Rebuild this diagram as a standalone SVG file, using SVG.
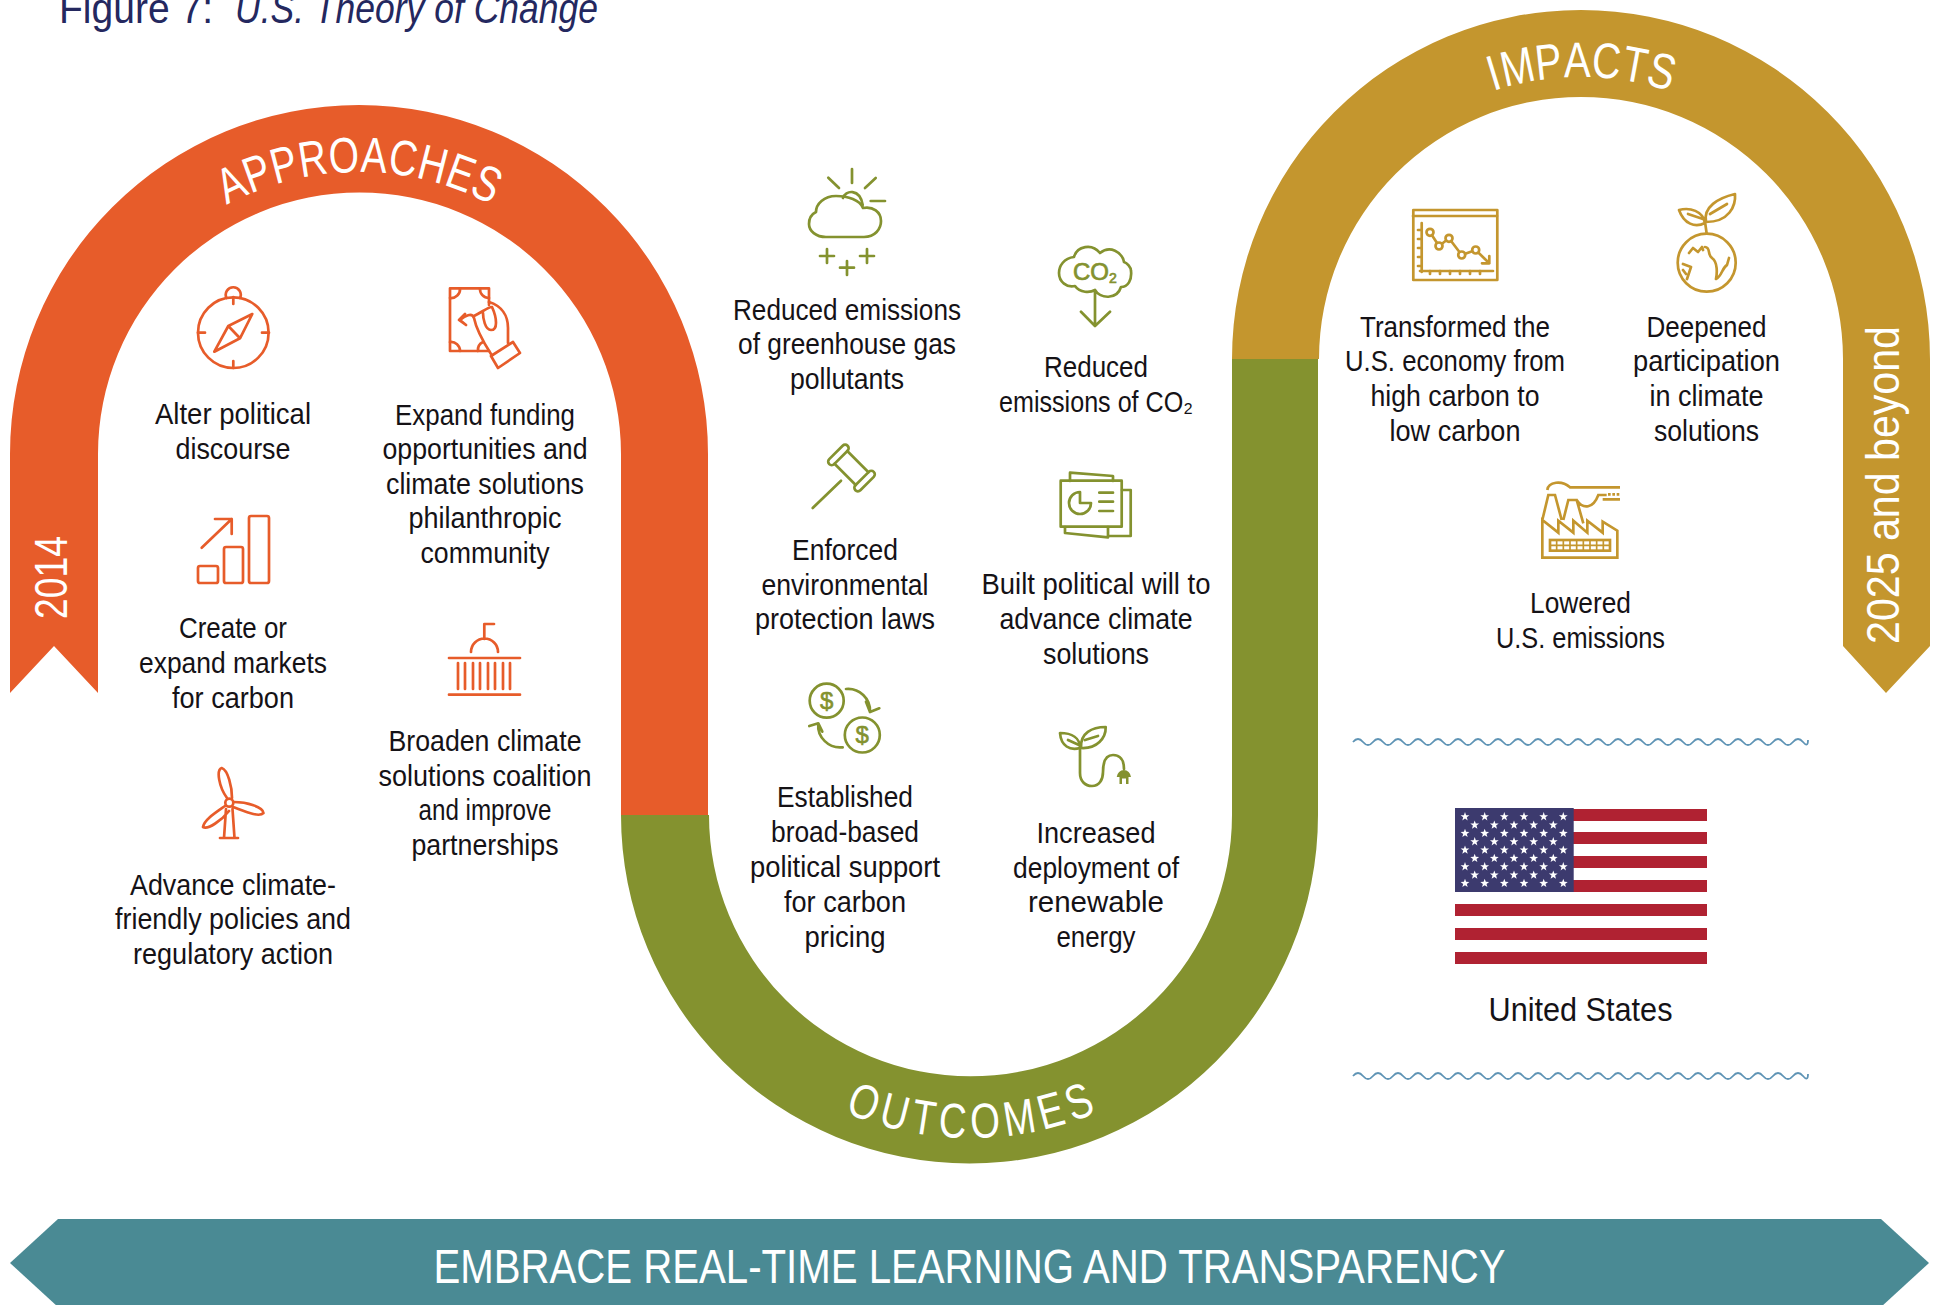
<svg xmlns="http://www.w3.org/2000/svg" width="1939" height="1305" viewBox="0 0 1939 1305">
<style>
text{font-family:"Liberation Sans",Arial,sans-serif}
.t{font-size:29px;fill:#151216;text-anchor:middle;transform:translateY(.7px)}
.h{font-size:50px;fill:#fff;text-anchor:middle}
.r{font-size:46px;fill:#fff}
.i{fill:none;stroke-width:2.7;stroke-linecap:round;stroke-linejoin:round}
.o{stroke:#e75c2a}.g{stroke:#84922f}.y{stroke:#c4962e}
.w{fill:none;stroke:#5f94b5;stroke-width:1.8}
</style>
<defs>
<path id="s" d="M0,-4.6L1.1,-1.5 4.4,-1.4 1.8,.6 2.7,3.7 0,1.9 -2.7,3.7 -1.8,.6 -4.4,-1.4 -1.1,-1.5Z" fill="#fff"/>
<path id="wave" d="M1353,0q5,-6 10,0t10,0t10,0t10,0t10,0t10,0t10,0t10,0t10,0t10,0t10,0t10,0t10,0t10,0t10,0t10,0t10,0t10,0t10,0t10,0t10,0t10,0t10,0t10,0t10,0t10,0t10,0t10,0t10,0t10,0t10,0t10,0t10,0t10,0t10,0t10,0t10,0t10,0t10,0t10,0t10,0t10,0t10,0t10,0t10,0t5,-2"/>
</defs>
<g id="title" font-size="42" fill="#24285f"><text x="59" y="23" textLength="154" lengthAdjust="spacingAndGlyphs">Figure 7:</text><text x="235" y="23" font-style="italic" textLength="363" lengthAdjust="spacingAndGlyphs">U.S. Theory of Change</text></g>

<g id="connectors">
<path id="band-approaches" fill="#e75c2a" d="M10,693V454A349,349 0 0 1 708,454V815H621V454A261.5,261.5 0 0 0 98,454V693L54,646Z"/>
<path id="band-outcomes" fill="#84922f" d="M621,815H709A261.5,261.5 0 0 0 1232,815V359H1318V815A348.5,348.5 0 0 1 621,815Z"/>
<path id="band-impacts" fill="#c4962e" d="M1232,359A349,349 0 0 1 1930,359V646L1886,693 1843,646V359A262,262 0 0 0 1319,359Z"/>
</g>
<g id="band-labels">
<g id="label-approaches">
<text class="h" transform="rotate(-25.37 359 454) translate(359,172) scale(.78,1)">A</text>
<text class="h" transform="rotate(-19.96 359 454) translate(359,172) scale(.78,1)">P</text>
<text class="h" transform="rotate(-14.55 359 454) translate(359,172) scale(.78,1)">P</text>
<text class="h" transform="rotate(-8.94 359 454) translate(359,172) scale(.78,1)">R</text>
<text class="h" transform="rotate(-2.91 359 454) translate(359,172) scale(.78,1)">O</text>
<text class="h" transform="rotate(2.91 359 454) translate(359,172) scale(.78,1)">A</text>
<text class="h" transform="rotate(8.53 359 454) translate(359,172) scale(.78,1)">C</text>
<text class="h" transform="rotate(14.35 359 454) translate(359,172) scale(.78,1)">H</text>
<text class="h" transform="rotate(19.96 359 454) translate(359,172) scale(.78,1)">E</text>
<text class="h" transform="rotate(25.37 359 454) translate(359,172) scale(.78,1)">S</text>
</g>
<g id="label-impacts">
<text class="h" transform="rotate(-17.03 1581 359) translate(1581,77) scale(.8,1)">I</text>
<text class="h" transform="rotate(-12.3 1581 359) translate(1581,77) scale(.8,1)">M</text>
<text class="h" transform="rotate(-6.25 1581 359) translate(1581,77) scale(.8,1)">P</text>
<text class="h" transform="rotate(-.76 1581 359) translate(1581,77) scale(.8,1)">A</text>
<text class="h" transform="rotate(4.92 1581 359) translate(1581,77) scale(.8,1)">C</text>
<text class="h" transform="rotate(10.41 1581 359) translate(1581,77) scale(.8,1)">T</text>
<text class="h" transform="rotate(15.7 1581 359) translate(1581,77) scale(.8,1)">S</text>
</g>
<g id="label-outcomes">
<text class="h" style="font-size:49px" transform="rotate(20.3 970.5 815) translate(970.5,1138) scale(.78,1)">O</text>
<text class="h" style="font-size:49px" transform="rotate(14.26 970.5 815) translate(970.5,1138) scale(.78,1)">U</text>
<text class="h" style="font-size:49px" transform="rotate(8.78 970.5 815) translate(970.5,1138) scale(.78,1)">T</text>
<text class="h" style="font-size:49px" transform="rotate(3.31 970.5 815) translate(970.5,1138) scale(.78,1)">C</text>
<text class="h" style="font-size:49px" transform="rotate(-2.74 970.5 815) translate(970.5,1138) scale(.78,1)">O</text>
<text class="h" style="font-size:49px" transform="rotate(-9.15 970.5 815) translate(970.5,1138) scale(.78,1)">M</text>
<text class="h" style="font-size:49px" transform="rotate(-15.19 970.5 815) translate(970.5,1138) scale(.78,1)">E</text>
<text class="h" style="font-size:49px" transform="rotate(-20.68 970.5 815) translate(970.5,1138) scale(.78,1)">S</text>
</g>
<text class="r" transform="translate(67,619) rotate(-90)" textLength="83" lengthAdjust="spacingAndGlyphs">2014</text>
<text class="r" transform="translate(1899,644) rotate(-90)" textLength="318" lengthAdjust="spacingAndGlyphs">2025 and beyond</text>
</g>

<g id="alter"><g class="i o"><circle cx="233.3" cy="332.7" r="35.3"/><path d="M226.5,298A7.5,7.5 0 1 1 240,298M233.3,297V304M233.3,361V368M198,332.7H205M262,332.7H269"/><path d="M252.3,314L228.3,326 214.3,351.7 240,338.3ZM228.3,326L240,338.3"/></g>
<text class="t" x="233" y="423" textLength="156" lengthAdjust="spacingAndGlyphs">Alter political</text><text class="t" x="233" y="458" textLength="115" lengthAdjust="spacingAndGlyphs">discourse</text></g>

<g id="expand"><g class="i o"><path d="M489,305V288.3H450V351H489"/><path d="M450,298A9,9 0 0 0 460,288.3M480,288.3A9,9 0 0 0 489,298M450,342A9,9 0 0 1 460,351M478,351A9,9 0 0 1 483,342"/><path d="M489,302C502,306 508,316 508,328V343M513,342L520,353 498,368 491,356ZM491,354C482,340 476,328 474,318C472,312 465,316 460,320L466,325 459,320 465,314M474,316C482,312 490,306 492,307C497,318 498,330 491,330C485,330 483,318 483,313"/></g>
<text class="t" x="485" y="424" textLength="180" lengthAdjust="spacingAndGlyphs">Expand funding</text><text class="t" x="485" y="458" textLength="205" lengthAdjust="spacingAndGlyphs">opportunities and</text><text class="t" x="485" y="493" textLength="198" lengthAdjust="spacingAndGlyphs">climate solutions</text><text class="t" x="485" y="527" textLength="153" lengthAdjust="spacingAndGlyphs">philanthropic</text><text class="t" x="485" y="562" textLength="129" lengthAdjust="spacingAndGlyphs">community</text></g>

<g id="create"><g class="i o"><rect x="198" y="566" width="20" height="17" rx="2"/><rect x="224" y="547" width="19" height="36" rx="2"/><rect x="249" y="516" width="20" height="67" rx="2"/><path d="M201.7,547.7L231.7,519M215,519H231.7V534"/></g>
<text class="t" x="233" y="637" textLength="108" lengthAdjust="spacingAndGlyphs">Create or</text><text class="t" x="233" y="672" textLength="188" lengthAdjust="spacingAndGlyphs">expand markets</text><text class="t" x="233" y="707" textLength="122" lengthAdjust="spacingAndGlyphs">for carbon</text></g>

<g id="broaden"><g class="i o"><path d="M494,624H484.3V639M471,652A13.5,13.5 0 0 1 498,652M449,658H520M449,694.7H520M458,663V689M465,663V689M473,663V689M480,663V689M488,663V689M495,663V689M503,663V689M510,663V689"/></g>
<text class="t" x="485" y="750" textLength="193" lengthAdjust="spacingAndGlyphs">Broaden climate</text><text class="t" x="485" y="785" textLength="213" lengthAdjust="spacingAndGlyphs">solutions coalition</text><text class="t" x="485" y="819" textLength="133" lengthAdjust="spacingAndGlyphs">and improve</text><text class="t" x="485" y="854" textLength="147" lengthAdjust="spacingAndGlyphs">partnerships</text></g>

<g id="advance"><g class="i o"><circle cx="229.3" cy="802.7" r="4"/><path d="M227,798C219,787 216,770 221.7,768C228,770 232,787 232,798M234,802C247,802 263,807 263.5,813C259,818 244,811 233,807M225,806C215,813 204,820 203,827C208,830 222,820 229,811M226,809L224,838M232.5,809L234.5,838M220,838H238"/></g>
<text class="t" x="233" y="894" textLength="206" lengthAdjust="spacingAndGlyphs">Advance climate-</text><text class="t" x="233" y="928" textLength="236" lengthAdjust="spacingAndGlyphs">friendly policies and</text><text class="t" x="233" y="963" textLength="200" lengthAdjust="spacingAndGlyphs">regulatory action</text></g>

<g id="ghg"><g class="i g"><path d="M852,169V183M828.3,177.7L839,188M875.7,178L865,188M870.7,201H885M843,198C845,190 860,188 862.7,205"/><path d="M826,237H864C875,237 881,229 881,221C881,212 873,206 863,208C860,200 848,196 836,196C824,196 816,204 816,212C810,215 809,220 809,224C809,231 816,237 826,237Z"/><path d="M820,256H834M827,249V263M840,267.7H854M847,261V275M860,256H874M867,249V263"/></g>
<text class="t" x="847" y="319" textLength="228" lengthAdjust="spacingAndGlyphs">Reduced emissions</text><text class="t" x="847" y="353" textLength="218" lengthAdjust="spacingAndGlyphs">of greenhouse gas</text><text class="t" x="847" y="388" textLength="114" lengthAdjust="spacingAndGlyphs">pollutants</text></g>

<g id="co2"><g class="i g"><path d="M1095,290C1100,299 1117,300 1121,287C1128,287 1132,280 1131,271C1131,267 1127,263 1124,262C1122,252 1110,245 1100,253C1092,243 1077,246 1074,257C1064,258 1059,266 1059,273C1059,282 1067,288 1075,286C1080,293 1090,293 1095,290ZM1095,290V325M1081,311.7L1095,326 1110,311.7"/></g>
<text x="1073" y="280" font-size="24" stroke="#84922f" stroke-width=".7" fill="#84922f">CO<tspan font-size="14" dy="3">2</tspan></text>
<text class="t" x="1096" y="376" textLength="104" lengthAdjust="spacingAndGlyphs">Reduced</text><text class="t" x="1096" y="411" textLength="194" lengthAdjust="spacingAndGlyphs">emissions of CO₂</text></g>

<g id="laws"><g class="i g"><g transform="translate(851.5,468) rotate(45)"><rect x="-22" y="-13" width="7" height="26" rx="3.5"/><rect x="15" y="-13" width="7" height="26" rx="3.5"/><path d="M-15,-9H15M-15,9H15"/></g><path d="M841,480.7L812.7,508"/></g>
<text class="t" x="845" y="559" textLength="106" lengthAdjust="spacingAndGlyphs">Enforced</text><text class="t" x="845" y="594" textLength="167" lengthAdjust="spacingAndGlyphs">environmental</text><text class="t" x="845" y="628" textLength="180" lengthAdjust="spacingAndGlyphs">protection laws</text></g>

<g id="will"><g class="i g"><rect x="1060.7" y="480.7" width="61" height="46"/><path d="M1070,481V472.7L1113,476V481M1122,490H1130.7V536H1108M1065,527V533L1108,537.3V527M1099.3,492.7H1113M1099.3,501.7H1113M1099.3,511H1113M1080,492A11,11 0 1 0 1091,503H1080Z"/></g>
<text class="t" x="1096" y="593" textLength="229" lengthAdjust="spacingAndGlyphs">Built political will to</text><text class="t" x="1096" y="628" textLength="193" lengthAdjust="spacingAndGlyphs">advance climate</text><text class="t" x="1096" y="663" textLength="106" lengthAdjust="spacingAndGlyphs">solutions</text></g>

<g id="pricing"><g class="i g"><circle cx="826.7" cy="700.7" r="17"/><circle cx="862.3" cy="735" r="17.5"/><path d="M846,689A22,22 0 0 1 870,712M866,701.7L870,712 879.3,708.3M842.7,747.3A22,22 0 0 1 818.3,723.3M809.3,726L818.3,723.3 822.3,731.7"/></g>
<text x="826.7" y="709" font-size="24" fill="#84922f" stroke="#84922f" stroke-width=".6" text-anchor="middle">$</text><text x="862.3" y="743" font-size="24" fill="#84922f" stroke="#84922f" stroke-width=".6" text-anchor="middle">$</text>
<text class="t" x="845" y="806" textLength="136" lengthAdjust="spacingAndGlyphs">Established</text><text class="t" x="845" y="841" textLength="148" lengthAdjust="spacingAndGlyphs">broad-based</text><text class="t" x="845" y="876" textLength="190" lengthAdjust="spacingAndGlyphs">political support</text><text class="t" x="845" y="911" textLength="122" lengthAdjust="spacingAndGlyphs">for carbon</text><text class="t" x="845" y="946" textLength="81" lengthAdjust="spacingAndGlyphs">pricing</text></g>

<g id="renewable"><g class="i g"><path d="M1080,748V773C1080,781 1085,786 1092,786C1099,786 1103,780 1103,772C1103,762 1106,755 1113,755C1120,755 1124,760 1124,769"/><path d="M1060,733C1072,733 1080,738 1080,748C1070,751 1061,746 1060,733ZM1105.7,727C1106,738 1097,749 1081,748C1080,733 1092,727 1105.7,727ZM1068,740L1079,745M1085,740L1098,736"/></g>
<path d="M1116.7,777A7.2,8 0 0 1 1131,777H1128.5V784H1126V778.5H1122V784H1119.5V777Z" fill="#84922f"/>
<text class="t" x="1096" y="842" textLength="119" lengthAdjust="spacingAndGlyphs">Increased</text><text class="t" x="1096" y="877" textLength="166" lengthAdjust="spacingAndGlyphs">deployment of</text><text class="t" x="1096" y="911" textLength="136" lengthAdjust="spacingAndGlyphs">renewable</text><text class="t" x="1096" y="946" textLength="79" lengthAdjust="spacingAndGlyphs">energy</text></g>

<g id="economy"><g class="i y" stroke-linecap="butt"><rect x="1413.3" y="210" width="84" height="70"/><path d="M1413,216H1497M1421.7,223V272M1420,271H1493M1430,232.3L1439,246 1449,238.3 1461.7,255 1475.7,250 1489.3,263.3M1489.3,256V263.3H1482"/><path d="M1418,230H1421M1418,239H1421M1418,248H1421M1418,257H1421M1418,266H1421M1430,274V271M1440,274V271M1450,274V271M1460,274V271M1470,274V271M1480,274V271"/></g><g fill="#fff" stroke="#c4962e" stroke-width="2.7"><circle cx="1430" cy="232.3" r="3.5"/><circle cx="1439" cy="246" r="3.5"/><circle cx="1449" cy="238.3" r="3.5"/><circle cx="1461.7" cy="255" r="3.5"/><circle cx="1475.7" cy="250" r="3.5"/></g>
<text class="t" x="1455" y="336" textLength="190" lengthAdjust="spacingAndGlyphs">Transformed the</text><text class="t" x="1455" y="370" textLength="220" lengthAdjust="spacingAndGlyphs">U.S. economy from</text><text class="t" x="1455" y="405" textLength="169" lengthAdjust="spacingAndGlyphs">high carbon to</text><text class="t" x="1455" y="440" textLength="131" lengthAdjust="spacingAndGlyphs">low carbon</text></g>

<g id="participation"><g class="i y"><circle cx="1706.7" cy="262.7" r="29"/><path d="M1706.7,233.7L1705,221.7M1679,210C1690,207 1703,211 1705,223C1695,228 1684,224 1679,210ZM1735,194C1736,206 1729,222 1706,222C1703,207 1718,198 1735,194ZM1688,214L1703,219M1710,214L1727,204"/><path d="M1689,253L1693,248 1698,252 1702,247 1703,250M1705,247C1711,247 1707,255 1712,258C1718,262 1717,274 1716,279C1722,276 1722,268 1727,265L1729,258M1683,264L1691,267 1687,279M1683,270L1686,274"/></g>
<text class="t" x="1706.5" y="336" textLength="120" lengthAdjust="spacingAndGlyphs">Deepened</text><text class="t" x="1706.5" y="370" textLength="147" lengthAdjust="spacingAndGlyphs">participation</text><text class="t" x="1706.5" y="405" textLength="114" lengthAdjust="spacingAndGlyphs">in climate</text><text class="t" x="1706.5" y="440" textLength="105" lengthAdjust="spacingAndGlyphs">solutions</text></g>

<g id="emissions"><g transform="translate(1380,180) scale(.33333)" fill="none" stroke="#c4962e" stroke-width="8"><path d="M487,1133H712V1052L668,1025V1058L622,1022V1058L580,1022V1058L535,1022V1058L487,1020ZM487,1020L505,945H525L545,1020M550,1020L565,960H590L610,1030M502,930C505,905 545,900 570,922H720M590,960C610,990 640,985 655,945H680M668,958H720"/><path d="M684,943H720" stroke-dasharray="8 5"/><rect x="510" y="1080" width="180" height="32"/><path d="M510,1096H690M530,1080V1112M550,1080V1112M570,1080V1112M590,1080V1112M610,1080V1112M630,1080V1112M650,1080V1112M670,1080V1112" stroke-width="5"/></g>
<text class="t" x="1580.5" y="612" textLength="101" lengthAdjust="spacingAndGlyphs">Lowered</text><text class="t" x="1580.5" y="647" textLength="169" lengthAdjust="spacingAndGlyphs">U.S. emissions</text></g>

<g id="us-flag"><g id="stripes" fill="#b02232"><rect x="1455" y="809" width="252" height="12"/><rect x="1455" y="832" width="252" height="12"/><rect x="1455" y="856" width="252" height="12"/><rect x="1455" y="880" width="252" height="12"/><rect x="1455" y="904" width="252" height="12"/><rect x="1455" y="928" width="252" height="12"/><rect x="1455" y="952" width="252" height="12"/></g>
<rect x="1455" y="808" width="118.7" height="84" fill="#3c3a6e"/>
<g id="stars">
<g><use href="#s" x="1465" y="816.7"/><use href="#s" x="1484.7" y="816.7"/><use href="#s" x="1504.3" y="816.7"/><use href="#s" x="1524" y="816.7"/><use href="#s" x="1543.7" y="816.7"/><use href="#s" x="1563.3" y="816.7"/></g>
<g><use href="#s" x="1474.7" y="825"/><use href="#s" x="1494.3" y="825"/><use href="#s" x="1514" y="825"/><use href="#s" x="1533.7" y="825"/><use href="#s" x="1553.3" y="825"/></g>
<g><use href="#s" x="1465" y="833.3"/><use href="#s" x="1484.7" y="833.3"/><use href="#s" x="1504.3" y="833.3"/><use href="#s" x="1524" y="833.3"/><use href="#s" x="1543.7" y="833.3"/><use href="#s" x="1563.3" y="833.3"/></g>
<g><use href="#s" x="1474.7" y="841.7"/><use href="#s" x="1494.3" y="841.7"/><use href="#s" x="1514" y="841.7"/><use href="#s" x="1533.7" y="841.7"/><use href="#s" x="1553.3" y="841.7"/></g>
<g><use href="#s" x="1465" y="850"/><use href="#s" x="1484.7" y="850"/><use href="#s" x="1504.3" y="850"/><use href="#s" x="1524" y="850"/><use href="#s" x="1543.7" y="850"/><use href="#s" x="1563.3" y="850"/></g>
<g><use href="#s" x="1474.7" y="858.3"/><use href="#s" x="1494.3" y="858.3"/><use href="#s" x="1514" y="858.3"/><use href="#s" x="1533.7" y="858.3"/><use href="#s" x="1553.3" y="858.3"/></g>
<g><use href="#s" x="1465" y="866.7"/><use href="#s" x="1484.7" y="866.7"/><use href="#s" x="1504.3" y="866.7"/><use href="#s" x="1524" y="866.7"/><use href="#s" x="1543.7" y="866.7"/><use href="#s" x="1563.3" y="866.7"/></g>
<g><use href="#s" x="1474.7" y="875"/><use href="#s" x="1494.3" y="875"/><use href="#s" x="1514" y="875"/><use href="#s" x="1533.7" y="875"/><use href="#s" x="1553.3" y="875"/></g>
<g><use href="#s" x="1465" y="883.3"/><use href="#s" x="1484.7" y="883.3"/><use href="#s" x="1504.3" y="883.3"/><use href="#s" x="1524" y="883.3"/><use href="#s" x="1543.7" y="883.3"/><use href="#s" x="1563.3" y="883.3"/></g>
</g>
<text x="1580.5" y="1021" font-size="33" fill="#151216" text-anchor="middle" textLength="184" lengthAdjust="spacingAndGlyphs">United States</text></g>
<use href="#wave" class="w" y="742"/><use href="#wave" class="w" y="1076"/>

<g id="learning"><polygon points="10,1263 58,1219 1881,1219 1929,1263 1881,1307 58,1307" fill="#4a8a94"/>
<text x="969.5" y="1283" font-size="48" fill="#fff" text-anchor="middle" textLength="1072" lengthAdjust="spacingAndGlyphs">EMBRACE REAL-TIME LEARNING AND TRANSPARENCY</text></g>
</svg>
